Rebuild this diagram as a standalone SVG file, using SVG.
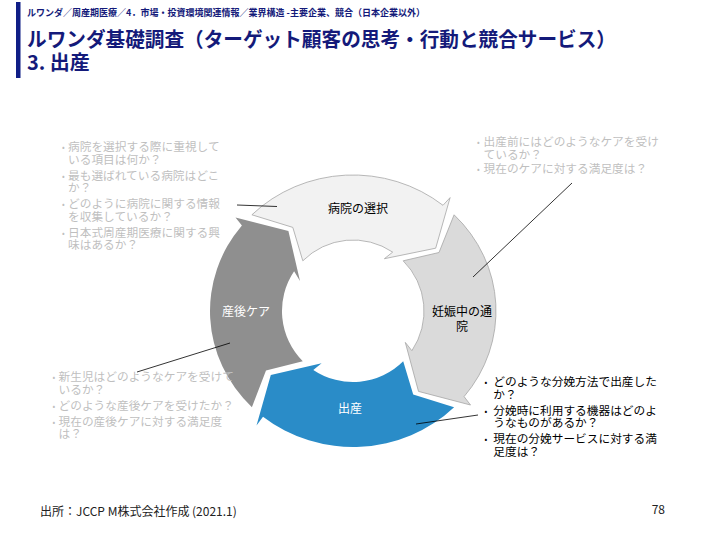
<svg xmlns="http://www.w3.org/2000/svg" width="720" height="540" viewBox="0 0 720 540">
<style>
.jp{font-family:"Noto Sans CJK JP","Noto Sans",sans-serif}
.hd{fill:#141a7a;font-weight:bold}
.q{font-size:11.7px}
.lg{fill:#bfbfbf}
.bk{fill:#000}
.b{font-size:8px}
.lbl{font-size:12px;text-anchor:middle}
.conn line{stroke:#000;stroke-width:0.8}
</style>
<rect width="720" height="540" fill="#fff"/>
<g id="header">
<rect x="16" y="2" width="4.5" height="76" fill="#0f1e86"/>
<text class="jp hd" x="27" y="16" font-size="9.5" textLength="398" lengthAdjust="spacingAndGlyphs">ルワンダ／周産期医療／4．市場・投資環境関連情報／業界構造 -主要企業、競合（日本企業以外）</text>
<text class="jp hd" x="27" y="47" font-size="20" textLength="589" lengthAdjust="spacingAndGlyphs">ルワンダ基礎調査（ターゲット顧客の思考・行動と競合サービス）</text>
<text class="jp hd" x="27" y="70" font-size="20">3. 出産</text>
</g>
<g id="node-hospital">
<path d="M 251.9 214.8 A 143 136 0 0 1 443 205.3 L 450.1 197.6 L 435.7 248.2 L 384.4 258.7 L 392.7 252.1 A 71 71 0 0 0 302.8 260.8 L 292.8 227.4 Z" fill="#f2f2f2" stroke="#a6a6a6" stroke-width="0.8"/>
<text class="jp lbl bk" x="358" y="213.3">病院の選択</text>
</g>
<g id="node-prenatal">
<path d="M 454.1 214.8 A 143 136 0 0 1 464.1 396.6 L 470.5 405 L 418.5 391.4 L 405.3 342.4 L 411.9 350.7 A 71 71 0 0 0 403.2 260.8 L 439 252.5 Z" fill="#dadada" stroke="#a6a6a6" stroke-width="0.8"/>
<text class="jp lbl bk" x="462" y="316.3">妊娠中の通<tspan x="462" y="330.5">院</tspan></text>
</g>
<g id="node-birth">
<path d="M 454.1 407.2 A 143 136 0 0 1 263 416.7 L 256.5 425.5 L 270.8 375 L 321.6 363.3 L 313.3 369.9 A 71 71 0 0 0 403.2 361.2 L 413.2 394.6 Z" fill="#2a8cc8"/>
<text class="jp lbl" x="350" y="413.3" fill="#fff">出産</text>
</g>
<g id="node-postnatal">
<path d="M 251.9 407.2 A 143 136 0 0 1 241.9 225.4 L 235.5 217.5 L 288.4 231 L 300 281 L 294.1 271.3 A 71 71 0 0 0 302.8 361.2 L 266 370.5 Z" fill="#8f8f8f"/>
<text class="jp lbl" x="246" y="316.3" fill="#fff">産後ケア</text>
</g>
<g id="notes-hospital">
<text class="jp q lg"><tspan class="b" x="62" y="150">•</tspan><tspan x="68" y="151">病院を選択する際に重視して</tspan><tspan x="68" y="163.5">いる項目は何か？</tspan><tspan class="b" x="62" y="178.5">•</tspan><tspan x="68" y="179.5">最も選ばれている病院はどこ</tspan><tspan x="68" y="192">か？</tspan><tspan class="b" x="62" y="207">•</tspan><tspan x="68" y="208">どのように病院に関する情報</tspan><tspan x="68" y="220.5">を収集しているか？</tspan><tspan class="b" x="62" y="235.5">•</tspan><tspan x="68" y="236.5">日本式周産期医療に関する興</tspan><tspan x="68" y="249">味はあるか？</tspan></text>
</g>
<g id="notes-prenatal">
<text class="jp q lg"><tspan class="b" x="477" y="145">•</tspan><tspan x="483.5" y="146">出産前にはどのようなケアを受け</tspan><tspan x="483.5" y="158.5">ているか？</tspan><tspan class="b" x="477" y="172">•</tspan><tspan x="483.5" y="173">現在のケアに対する満足度は？</tspan></text>
</g>
<g id="notes-postnatal">
<text class="jp q lg"><tspan class="b" x="52.5" y="380">•</tspan><tspan x="58.5" y="381">新生児はどのようなケアを受けて</tspan><tspan x="58.5" y="393.5">いるか？</tspan><tspan class="b" x="52.5" y="408.5">•</tspan><tspan x="58.5" y="409.5">どのような産後ケアを受けたか？</tspan><tspan class="b" x="52.5" y="424.5">•</tspan><tspan x="58.5" y="425.5">現在の産後ケアに対する満足度</tspan><tspan x="58.5" y="438">は？</tspan></text>
</g>
<g id="notes-birth">
<text class="jp q bk"><tspan class="b" x="484.5" y="385">•</tspan><tspan x="493.3" y="386">どのような分娩方法で出産した</tspan><tspan x="493.3" y="398.5">か？</tspan><tspan class="b" x="484.5" y="413.5">•</tspan><tspan x="493.3" y="414.5">分娩時に利用する機器はどのよ</tspan><tspan x="493.3" y="427">うなものがあるか？</tspan><tspan class="b" x="484.5" y="442">•</tspan><tspan x="493.3" y="443">現在の分娩サービスに対する満</tspan><tspan x="493.3" y="455.5">足度は？</tspan></text>
</g>
<g id="connectors" class="conn">
<line x1="237" y1="205" x2="277" y2="206.5"/>
<line x1="572" y1="183" x2="473" y2="277"/>
<line x1="137" y1="372" x2="230" y2="343"/>
<line x1="416" y1="424" x2="478" y2="415"/>
</g>
<g id="footer">
<text class="jp" x="40" y="516" font-size="12" fill="#222">出所：JCCP M株式会社作成 (2021.1)</text>
<text class="jp" x="665" y="514" font-size="12" fill="#222" text-anchor="end">78</text>
</g>
</svg>
